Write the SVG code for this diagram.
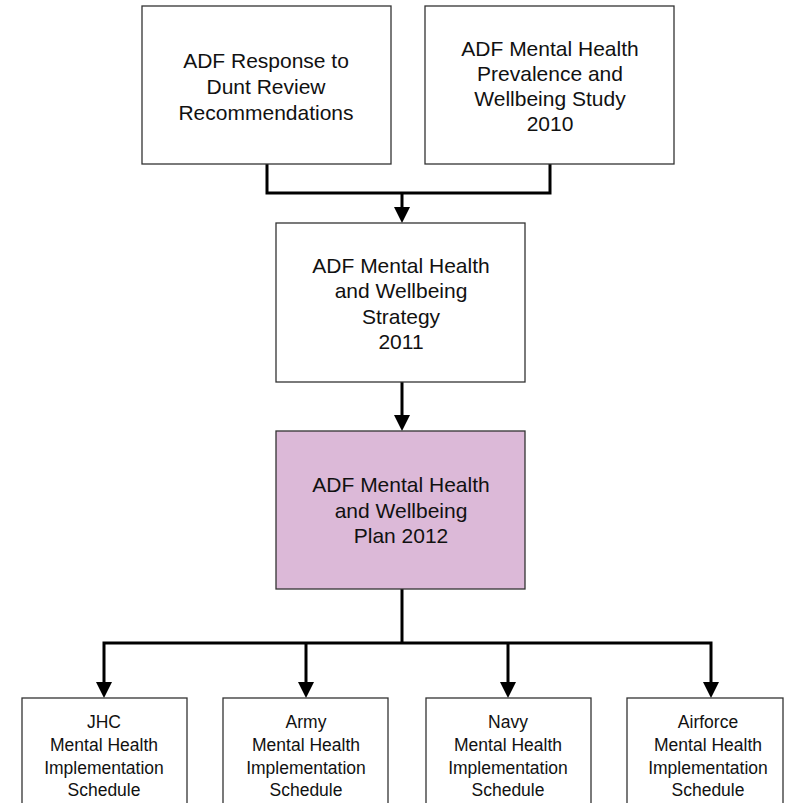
<svg xmlns="http://www.w3.org/2000/svg" width="785" height="803" viewBox="0 0 785 803">
<style>
.box{fill:#ffffff;stroke:#333333;stroke-width:1.3}
.plan{fill:#dcb9d8;stroke:#333333;stroke-width:1.3}
.t{font-family:"Liberation Sans",Arial,sans-serif;font-size:21px;fill:#111111;text-anchor:middle}
.s{font-family:"Liberation Sans",Arial,sans-serif;font-size:17.5px;fill:#111111;text-anchor:middle}
.c{fill:none;stroke:#000000;stroke-width:3}
</style>
<rect width="785" height="803" fill="#ffffff"/>
<g id="connectors">
<polyline class="c" points="267,164 267,193 550,193 550,164"/>
<line class="c" x1="402" y1="193" x2="402" y2="208"/>
<path d="M394,207 L410,207 L402,223 Z" fill="#000"/>
<line class="c" x1="402" y1="382" x2="402" y2="416"/>
<path d="M394,415 L410,415 L402,431 Z" fill="#000"/>
<line class="c" x1="402" y1="589" x2="402" y2="643"/>
<polyline class="c" points="104,683 104,643 711,643 711,683"/>
<line class="c" x1="306" y1="643" x2="306" y2="683"/>
<line class="c" x1="508" y1="643" x2="508" y2="683"/>
<path d="M96,682 L112,682 L104,698 Z" fill="#000"/>
<path d="M298,682 L314,682 L306,698 Z" fill="#000"/>
<path d="M500,682 L516,682 L508,698 Z" fill="#000"/>
<path d="M703,682 L719,682 L711,698 Z" fill="#000"/>
</g>
<g id="dunt">
<rect class="box" x="142" y="6" width="249" height="158"/>
<text class="t" x="266" y="68">ADF Response to</text>
<text class="t" x="266" y="94">Dunt Review</text>
<text class="t" x="266" y="120">Recommendations</text>
</g>
<g id="study">
<rect class="box" x="425" y="6" width="249" height="158"/>
<text class="t" x="550" y="56">ADF Mental Health</text>
<text class="t" x="550" y="81">Prevalence and</text>
<text class="t" x="550" y="106">Wellbeing Study</text>
<text class="t" x="550" y="131">2010</text>
</g>
<g id="strategy">
<rect class="box" x="276" y="223" width="249" height="159"/>
<text class="t" x="401" y="273">ADF Mental Health</text>
<text class="t" x="401" y="298">and Wellbeing</text>
<text class="t" x="401" y="324">Strategy</text>
<text class="t" x="401" y="349">2011</text>
</g>
<g id="plan">
<rect class="plan" x="276" y="431" width="249" height="158"/>
<text class="t" x="401" y="492">ADF Mental Health</text>
<text class="t" x="401" y="518">and Wellbeing</text>
<text class="t" x="401" y="543">Plan 2012</text>
</g>
<g id="jhc">
<rect class="box" x="22" y="698" width="165" height="120"/>
<text class="s" x="104" y="728">JHC</text>
<text class="s" x="104" y="751">Mental Health</text>
<text class="s" x="104" y="774">Implementation</text>
<text class="s" x="104" y="796">Schedule</text>
</g>
<g id="army">
<rect class="box" x="223" y="698" width="165" height="120"/>
<text class="s" x="306" y="728">Army</text>
<text class="s" x="306" y="751">Mental Health</text>
<text class="s" x="306" y="774">Implementation</text>
<text class="s" x="306" y="796">Schedule</text>
</g>
<g id="navy">
<rect class="box" x="426" y="698" width="165" height="120"/>
<text class="s" x="508" y="728">Navy</text>
<text class="s" x="508" y="751">Mental Health</text>
<text class="s" x="508" y="774">Implementation</text>
<text class="s" x="508" y="796">Schedule</text>
</g>
<g id="airforce">
<rect class="box" x="627" y="698" width="156" height="120"/>
<text class="s" x="708" y="728">Airforce</text>
<text class="s" x="708" y="751">Mental Health</text>
<text class="s" x="708" y="774">Implementation</text>
<text class="s" x="708" y="796">Schedule</text>
</g>
</svg>
